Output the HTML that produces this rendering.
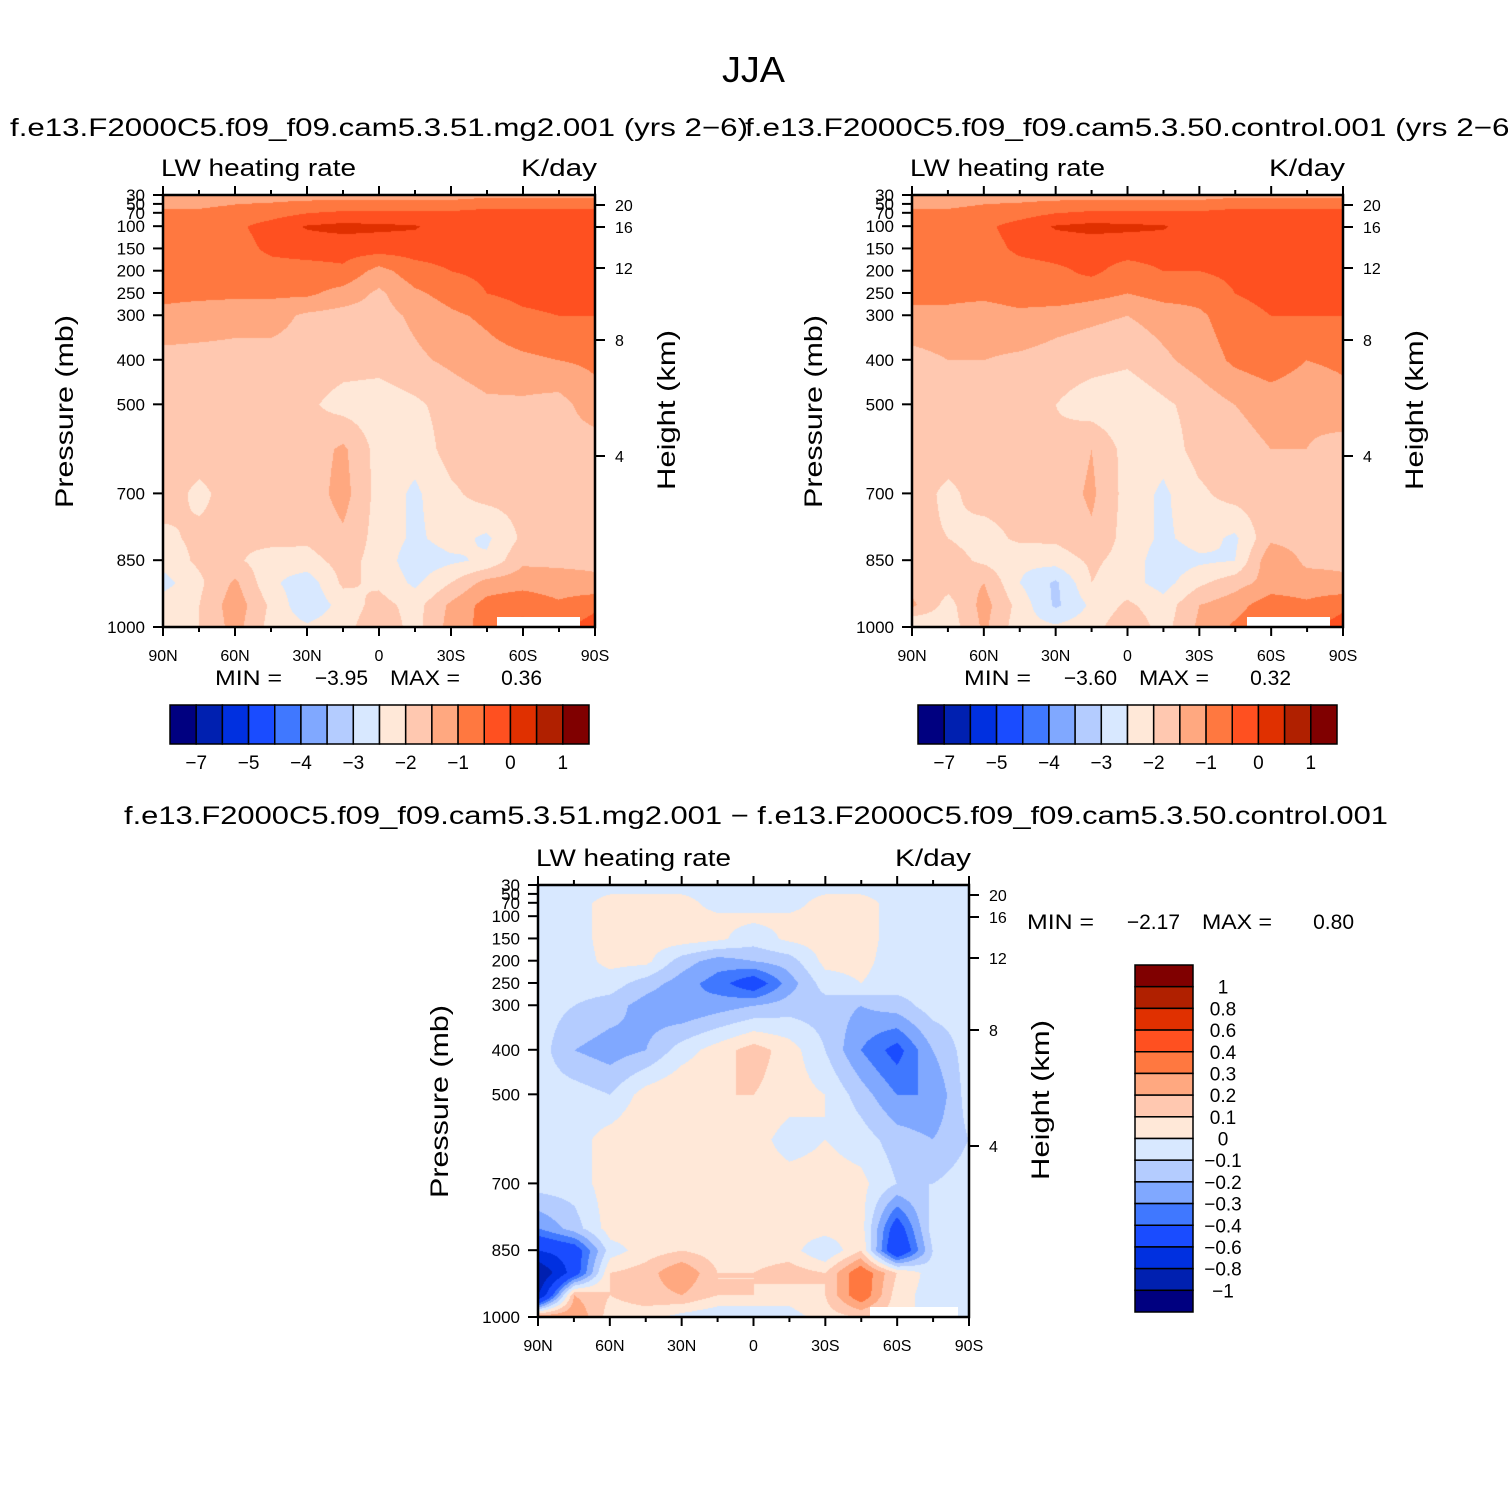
<!DOCTYPE html>
<html><head><meta charset="utf-8"><style>
html,body{margin:0;padding:0;background:#fff;}
#wrap{position:relative;width:1508px;height:1508px;overflow:hidden;background:#fff;}
canvas{position:absolute;}
svg{position:absolute;left:0;top:0;}
text{font-family:"Liberation Sans",sans-serif;fill:#000;}
</style></head><body>
<div id="wrap">
<canvas id="c1" width="432" height="432" style="left:163px;top:195px"></canvas>
<canvas id="c2" width="431" height="432" style="left:912px;top:195px"></canvas>
<canvas id="c3" width="431" height="432" style="left:538px;top:885px"></canvas>
<svg id="ov" width="1508" height="1508"></svg>
</div>
<script>
const lats=["90N","75N","60N","45N","30N","15N","0","15S","30S","45S","60S","75S","90S"];
const levs=[30,70,100,150,200,250,300,400,500,600,700,800,850,900,950,1000];
const gridTL=[
[-1.3,-1.3,-1.2,-1.2,-1.2,-1.2,-1.2,-1.2,-1.2,-1.1,-1.1,-1.1,-1.1],
[-0.9,-0.9,-0.8,-0.7,-0.5,-0.4,-0.4,-0.4,-0.4,-0.3,-0.3,-0.3,-0.3],
[-0.8,-0.8,-0.6,-0.3,0.05,0.15,0.1,0.05,-0.3,-0.3,-0.3,-0.3,-0.3],
[-0.8,-0.8,-0.7,-0.4,-0.3,-0.3,-0.3,-0.3,-0.3,-0.3,-0.3,-0.2,-0.2],
[-0.8,-0.8,-0.8,-0.7,-0.7,-0.6,-1.2,-0.7,-0.5,-0.4,-0.3,-0.2,-0.2],
[-0.9,-0.9,-0.9,-0.9,-0.9,-1.2,-1.6,-1.1,-0.8,-0.5,-0.35,-0.3,-0.3],
[-1.1,-1.2,-1.3,-1.3,-1.6,-1.7,-1.7,-1.4,-1.1,-0.9,-0.6,-0.5,-0.5],
[-1.7,-1.7,-1.7,-1.7,-1.7,-1.8,-1.8,-1.6,-1.4,-1.2,-1.1,-1.0,-0.9],
[-1.8,-1.8,-1.8,-1.8,-1.9,-2.2,-2.3,-2.1,-1.8,-1.6,-1.6,-1.7,-1.2],
[-1.8,-1.8,-1.8,-1.8,-1.8,-1.4,-2.2,-2.3,-1.8,-1.7,-1.7,-1.7,-1.8],
[-1.8,-2.1,-1.8,-1.8,-1.8,-1.3,-2.2,-2.6,-2.1,-1.8,-1.8,-1.7,-1.8],
[-2.1,-1.9,-1.9,-1.8,-1.9,-1.6,-2.2,-2.6,-2.3,-2.6,-1.9,-1.7,-1.7],
[-2.3,-1.9,-1.9,-2.3,-2.2,-1.8,-2.2,-2.8,-2.6,-2.4,-1.6,-1.6,-1.6],
[-2.7,-2.1,-1.4,-2.4,-2.8,-1.9,-2.1,-2.6,-2.0,-1.3,-1.2,-1.3,-1.4],
[-2.2,-2.0,-1.2,-2.1,-2.9,-2.3,-1.8,-2.2,-1.4,-0.8,-0.6,-0.9,-0.6],
[-2.3,-2.0,-1.3,-2.2,-2.4,-2.2,-1.6,-2.2,-1.3,-0.8,-0.4,-0.6,-0.3]];
const gridTR=[
[-1.3,-1.3,-1.2,-1.2,-1.2,-1.2,-1.2,-1.2,-1.2,-1.1,-1.1,-1.1,-1.1],
[-0.9,-0.9,-0.8,-0.7,-0.5,-0.4,-0.4,-0.4,-0.4,-0.3,-0.3,-0.3,-0.3],
[-0.8,-0.8,-0.6,-0.3,0.05,0.15,0.1,0.05,-0.3,-0.3,-0.3,-0.3,-0.3],
[-0.8,-0.8,-0.7,-0.4,-0.3,-0.3,-0.3,-0.3,-0.3,-0.3,-0.3,-0.2,-0.2],
[-0.8,-0.8,-0.8,-0.7,-0.6,-0.4,-0.7,-0.5,-0.5,-0.4,-0.3,-0.2,-0.2],
[-0.9,-0.9,-0.9,-0.8,-0.6,-0.8,-1.0,-0.8,-0.8,-0.5,-0.35,-0.3,-0.3],
[-1.1,-1.1,-1.2,-1.1,-1.3,-1.4,-1.5,-1.3,-1.1,-0.7,-0.5,-0.5,-0.5],
[-1.7,-1.5,-1.5,-1.6,-1.7,-1.8,-1.9,-1.6,-1.3,-0.9,-0.7,-1.0,-0.9],
[-1.8,-1.8,-1.8,-1.8,-2.0,-2.3,-2.4,-2.1,-1.8,-1.5,-1.3,-1.4,-1.2],
[-1.8,-1.8,-1.8,-1.9,-1.9,-1.5,-2.2,-2.3,-1.8,-1.7,-1.5,-1.5,-1.7],
[-1.8,-2.1,-1.8,-1.8,-1.8,-1.4,-2.2,-2.6,-2.1,-1.8,-1.7,-1.6,-1.8],
[-1.9,-2.0,-2.2,-1.9,-1.9,-1.6,-2.2,-2.6,-2.3,-2.6,-1.6,-1.7,-1.7],
[-1.8,-1.8,-2.1,-2.4,-2.3,-1.9,-2.2,-2.8,-2.6,-2.5,-1.1,-1.6,-1.6],
[-1.7,-1.8,-1.5,-2.5,-3.1,-2.0,-2.3,-2.7,-2.1,-1.7,-1.3,-1.3,-1.4],
[-1.4,-2.2,-1.3,-2.2,-3.1,-2.4,-1.9,-2.3,-1.5,-1.2,-0.7,-0.9,-0.6],
[-2.6,-2.3,-1.4,-2.3,-2.4,-2.2,-1.6,-2.2,-1.4,-0.9,-0.5,-0.6,-0.3]];
const gridD=[
[-0.05,-0.05,-0.05,-0.05,-0.05,-0.05,-0.05,-0.05,-0.05,-0.05,-0.05,-0.05,-0.05],
[-0.05,-0.05,0.05,0.05,0.05,-0.05,-0.05,-0.05,0.05,0.05,-0.05,-0.05,-0.05],
[-0.05,-0.05,0.05,0.05,0.05,0.02,0.02,0.02,0.05,0.05,-0.05,-0.05,-0.05],
[-0.05,-0.05,0.05,0.05,0.05,0.02,-0.05,0.02,0.05,0.05,-0.05,-0.05,-0.05],
[-0.05,-0.05,0.03,0.03,-0.15,-0.25,-0.2,-0.15,0.03,0.03,-0.05,-0.05,-0.05],
[-0.05,-0.05,-0.05,-0.15,-0.25,-0.35,-0.5,-0.25,-0.05,0.0,-0.05,-0.05,-0.05],
[-0.05,-0.1,-0.15,-0.25,-0.3,-0.25,-0.2,-0.15,-0.15,-0.2,-0.15,-0.05,-0.05],
[-0.05,-0.2,-0.25,-0.2,-0.05,0.05,0.15,0.05,-0.1,-0.3,-0.45,-0.2,-0.05],
[-0.05,-0.05,-0.1,0.05,0.1,0.1,0.1,0.05,0.0,-0.15,-0.3,-0.3,-0.05],
[-0.05,-0.05,0.05,0.1,0.1,0.05,0.05,-0.05,0.0,-0.05,-0.15,-0.2,-0.1],
[-0.05,-0.05,0.05,0.05,0.05,0.05,0.05,0.05,0.05,0.03,-0.1,-0.1,-0.05],
[-0.3,-0.15,0.05,0.05,0.05,0.05,0.05,0.05,0.05,0.05,-0.5,-0.05,-0.05],
[-0.6,-0.5,-0.05,0.05,0.1,0.05,0.05,0.05,-0.1,0.1,-0.6,-0.1,-0.05],
[-1.0,-0.5,0.1,0.15,0.3,0.1,0.1,0.15,0.1,0.4,0.1,-0.05,-0.05],
[-0.8,0.2,0.1,0.15,0.2,0.1,0.1,0.05,0.1,0.4,0.05,-0.05,-0.05],
[0.3,0.3,0.05,0.05,-0.05,-0.1,-0.1,-0.05,0.05,0.1,0.05,-0.05,-0.05]];
const colors=["#000080","#0020b0","#0030e0","#1a4cff","#4078ff","#80a8ff","#b4ccff","#d8e8ff","#ffe8d8","#ffc8b0","#ffa880","#ff7840","#ff5020","#e03000","#b02000","#800000"];
const levelsTop=[-7,-6,-5,-4.5,-4,-3.5,-3,-2.5,-2,-1.5,-1,-0.5,0,0.5,1];
const levelsDiff=[-1,-0.8,-0.6,-0.4,-0.3,-0.2,-0.1,0,0.1,0.2,0.3,0.4,0.6,0.8,1];
const topCbarLabels=["\u22127","\u22125","\u22124","\u22123","\u22122","\u22121","0","1"];
const diffCbarLabels=["1","0.8","0.6","0.4","0.3","0.2","0.1","0","\u22120.1","\u22120.2","\u22120.3","\u22120.4","\u22120.6","\u22120.8","\u22121"];
const pTicks=[30,50,70,100,150,200,250,300,400,500,700,850,1000];
const hTicks=[20,16,12,8,4];
const hTickY=[10,32,73,145,261];
const xLabels=["90N","60N","30N","0","30S","60S","90S"];
const stats=[["\u22123.95","0.36"],["\u22123.60","0.32"],["\u22122.17","0.80"]];

const H=432;
function py(p){return (p-30)*H/970;}
function hexRGB(h){return [parseInt(h.substr(1,2),16),parseInt(h.substr(3,2),16),parseInt(h.substr(5,2),16)];}
const rgb=colors.map(hexRGB);
function render(id,grid,levels){
  const cv=document.getElementById(id),ctx=cv.getContext('2d');
  const W=cv.width,img=ctx.createImageData(W,H);
  const rowY=levs.map(py), nc=lats.length;
  for(let y=0;y<H;y++){
    let r=0;while(r<levs.length-2&&rowY[r+1]<y)r++;
    const ty=Math.min(1,Math.max(0,(y-rowY[r])/(rowY[r+1]-rowY[r])));
    for(let x=0;x<W;x++){
      const fx=x/(W-1)*(nc-1);let c=Math.min(nc-2,Math.floor(fx));const tx=fx-c;
      const v=(grid[r][c]*(1-tx)+grid[r][c+1]*tx)*(1-ty)+(grid[r+1][c]*(1-tx)+grid[r+1][c+1]*tx)*ty;
      let k=0;while(k<levels.length&&v>=levels[k])k++;
      const col=rgb[k],i=(y*W+x)*4;
      img.data[i]=col[0];img.data[i+1]=col[1];img.data[i+2]=col[2];img.data[i+3]=255;
    }
  }
  ctx.putImageData(img,0,0);
}
render('c1',gridTL,levelsTop);render('c2',gridTR,levelsTop);render('c3',gridD,levelsDiff);

const ov=document.getElementById('ov');const NS='http://www.w3.org/2000/svg';
function el(tag,a,txt){const e=document.createElementNS(NS,tag);for(const k in a)e.setAttribute(k,a[k]);if(txt!==undefined)e.textContent=txt;ov.appendChild(e);return e;}
function T(x,y,s,size,anchor,name,extra){const e=el('text',Object.assign({x:x,y:y,'font-size':size,'text-anchor':anchor||'start'},extra||{}),s);

return e;}
function TL(x,y,s,size,len,name,extra){return T(x,y,s,size,'start',name,Object.assign({textLength:len,lengthAdjust:'spacingAndGlyphs'},extra||{}));}

function axes(ox,oy,W,maskX1,maskX2){
  const g=el('rect',{x:ox+maskX1,y:oy+H-10,width:maskX2-maskX1,height:10,fill:'#fff'});
  
  
  const fr=el('rect',{x:ox,y:oy,width:W,height:H,fill:'none',stroke:'#000','stroke-width':2.5});
  
  
  for(let i=0;i<=12;i++){const x=ox+i*W/12,len=i%2==0?9:5;
    el('line',{x1:x,y1:oy,x2:x,y2:oy-len,stroke:'#000','stroke-width':2});
    el('line',{x1:x,y1:oy+H,x2:x,y2:oy+H+len,stroke:'#000','stroke-width':2});}
  xLabels.forEach((s,i)=>T(ox+i*W/6,oy+H+34,s,16,'middle','x-tick-label'));
  pTicks.forEach(p=>{const y=oy+py(p);el('line',{x1:ox,y1:y,x2:ox-10,y2:y,stroke:'#000','stroke-width':2});
    T(ox-18,y+6,String(p),17,'end','pressure-tick-label');});
  hTicks.forEach((h,i)=>{const y=oy+hTickY[i];el('line',{x1:ox+W,y1:y,x2:ox+W+10,y2:y,stroke:'#000','stroke-width':2});
    T(ox+W+20,y+6,String(h),16,'start','height-tick-label');});
  TL(ox-2,oy-19,'LW heating rate',24,195,'variable-label');
  TL(ox+W-74,oy-19,'K/day',24,76,'units-label');
  T(0,0,'Pressure (mb)',25,'start','y-axis-title',{transform:`translate(${ox-90},${oy+313}) rotate(-90)`,textLength:193,lengthAdjust:'spacingAndGlyphs'});
  T(0,0,'Height (km)',25,'start','right-axis-title',{transform:`translate(${ox+W+80},${oy+295}) rotate(-90)`,textLength:160,lengthAdjust:'spacingAndGlyphs'});
}
axes(163,195,432,334,417);
axes(912,195,431,335,418);
axes(538,885,431,332,420);

TL(722,82,'JJA',36,63,'figure-title');
TL(10,136,'f.e13.F2000C5.f09_f09.cam5.3.51.mg2.001 (yrs 2\u22126)',25,738,'left-panel-title');
TL(745,136,'f.e13.F2000C5.f09_f09.cam5.3.50.control.001 (yrs 2\u22126)',25,775,'right-panel-title');
TL(124,824,'f.e13.F2000C5.f09_f09.cam5.3.51.mg2.001 \u2212 f.e13.F2000C5.f09_f09.cam5.3.50.control.001',25,1264,'diff-panel-title');

function statText(x,y,i){TL(x,y,'MIN =',21,67,'min-label');T(x+153,y,stats[i][0],21,'end','min-value');
  TL(x+175,y,'MAX =',21,70,'max-label');T(x+327,y,stats[i][1],21,'end','max-value');}
statText(215,685,0);statText(964,685,1);statText(1027,929,2);

function hbar(x0){
  const w=419/16;
  colors.forEach((c,i)=>{const r=el('rect',{x:x0+i*w,y:705,width:w,height:39,fill:c,stroke:'#000','stroke-width':1.5});
    
    });
  topCbarLabels.forEach((s,j)=>T(x0+(2*j+1)*w,769,s,19,'middle','colorbar-label'));
}
hbar(170);hbar(918);
const vh=347/16;
colors.slice().reverse().forEach((c,i)=>{const r=el('rect',{x:1135,y:965+i*vh,width:58,height:vh,fill:c,stroke:'#000','stroke-width':1.5});
  
  });
diffCbarLabels.forEach((s,j)=>T(1223,965+(j+1)*vh+7,s,19,'middle','diff-colorbar-label'));
</script>
</body></html>
